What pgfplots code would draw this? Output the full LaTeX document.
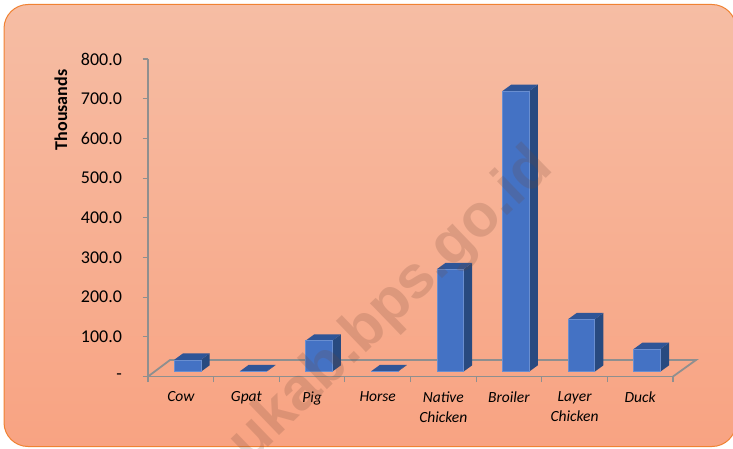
\documentclass[border=0pt]{standalone}
\usepackage{pgfplots}
\pgfplotsset{compat=1.18}
\usepackage{fontspec}
\setmainfont{Carlito}
\newfontfamily\wmfont{Liberation Sans}
\definecolor{barfront}{HTML}{4472C4}
\definecolor{barside}{HTML}{284A80}
\definecolor{bartop}{HTML}{2F5597}
\definecolor{gridg}{HTML}{8F8F8F}
\definecolor{bgtop}{HTML}{F6BDA4}
\definecolor{bgbot}{HTML}{F8A382}
\definecolor{wmark}{HTML}{704838}
\newcommand{\threedbar}[2]{%
 \pgfmathsetmacro{\xl}{#1}%
 \pgfmathsetmacro{\xr}{#1+0.407}%
 \pgfmathsetmacro{\xrb}{#1+0.407+0.133}%
 \pgfmathsetmacro{\xlb}{#1+0.133}%
 \pgfmathsetmacro{\yb}{12.2}%
 \pgfmathsetmacro{\yt}{12.2+#2}%
 \pgfmathsetmacro{\ybb}{12.2+16}%
 \pgfmathsetmacro{\ytb}{12.2+16+#2}%
 \addplot[draw=none,fill=barside] coordinates {(\xr,\yb) (\xrb,\ybb) (\xrb,\ytb) (\xr,\yt)} -- cycle;
 \addplot[draw=none,fill=bartop] coordinates {(\xl,\yt) (\xr,\yt) (\xrb,\ytb) (\xlb,\ytb)} -- cycle;
 \addplot[draw=barfront!80!white,line width=0.5pt,fill=barfront] coordinates {(\xl,\yb) (\xr,\yb) (\xr,\yt) (\xl,\yt)} -- cycle;
}
\begin{document}
\begin{tikzpicture}[x=1pt,y=1pt]
\useasboundingbox (0,0) rectangle (733,448);
\shade[top color=bgtop,bottom color=bgbot,draw={rgb,255:red,240;green,130;blue,50},line width=1pt,rounded corners=24pt]
  (4,1.5) rectangle (736,443.5);
\begin{axis}[
  at={(148pt,71.5pt)},anchor=origin,
  scale only axis,width=525pt,height=317.5pt,
  xmin=0,xmax=8,ymin=0,ymax=800,
  clip=false,
  axis lines=left,
  axis line style={draw=gridg,line width=1.8pt,-},
  xtick={0,...,8},
  x tick label as interval,
  xticklabels={Cow,Gpat,Pig,Horse,{Native\\Chicken},Broiler,{Layer\\Chicken},Duck},
  xticklabel style={font=\fontsize{15.5}{20}\selectfont\itshape,align=center,anchor=north,yshift=-6pt},
  ytick={0,100,...,800},
  yticklabels={{-\hspace{8pt}},100.0,200.0,300.0,400.0,500.0,600.0,700.0,800.0},
  yticklabel style={font=\fontsize{18}{20}\selectfont,anchor=east,xshift=-17pt},
  /pgf/number format/assume math mode=true,
  tick style={draw=gridg,line width=1.1pt},
  tick align=outside,
  major tick length=5.5pt,
  tick pos=left,
]
\addplot[draw=gridg,line width=1.8pt] coordinates {(0,0) (0.335,41.5) (8.35,41.5) (8,0)};
\threedbar{0.40}{30}
\threedbar{1.40}{1}
\threedbar{2.40}{78}
\threedbar{3.40}{1}
\threedbar{4.40}{258}
\threedbar{5.40}{707}
\threedbar{6.40}{132}
\threedbar{7.40}{57}
\end{axis}
\node[rotate=90,font=\fontsize{18}{20}\selectfont\bfseries] at (61,338) {Thousands};
\node[rotate=44,font=\wmfont\bfseries\fontsize{60}{60}\selectfont,text=wmark,opacity=0.2] at (392,142) {ukab.bps.go.id};
\end{tikzpicture}
\end{document}
